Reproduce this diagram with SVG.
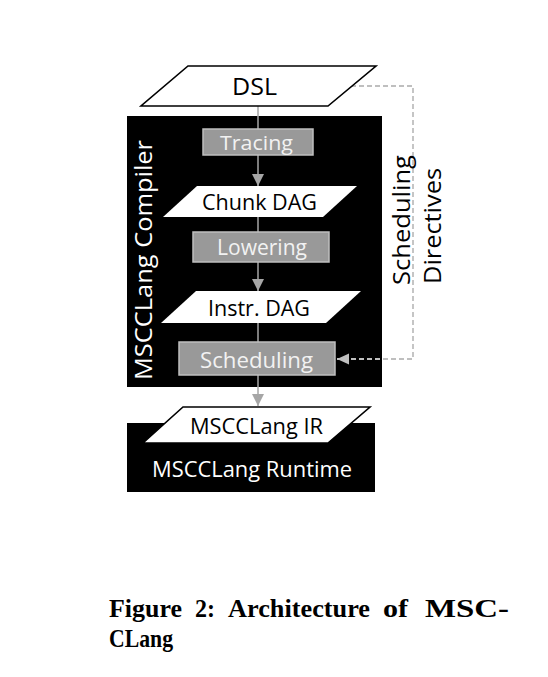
<svg xmlns="http://www.w3.org/2000/svg" width="548" height="677" viewBox="0 0 548 677">
<style>
.lbl{font-family:"Open Sans","Noto Sans","Liberation Sans",sans-serif;}
.blk{fill:#000;}
.step{fill:#999;stroke:#bfbfbf;stroke-width:1.5;}
.stxt{fill:#f2f2f2;}
.wtxt{fill:#fff;}
.dtxt{fill:#000;}
.conn{stroke:#a6a6a6;stroke-width:1.5;fill:none;}
.dash{stroke:#bfbfbf;stroke-width:1.8;fill:none;stroke-dasharray:5,3;}
.cap{font-family:"Liberation Serif",serif;font-weight:bold;font-size:25px;fill:#000;}
</style>
<defs>
<marker id="ah" markerUnits="userSpaceOnUse" markerWidth="14" markerHeight="14" viewBox="0 0 14 14" refX="12" refY="7" orient="auto">
<path d="M0,1 L12,7 L0,13 Z" fill="#a6a6a6"/>
</marker>
<marker id="ahd" markerUnits="userSpaceOnUse" markerWidth="14" markerHeight="14" viewBox="0 0 14 14" refX="12" refY="7" orient="auto">
<path d="M0,1.5 L12,7 L0,12.5 Z" fill="#bfbfbf"/>
</marker>
</defs>

<g id="compiler">
<rect class="blk" x="127" y="116" width="255" height="271"/>
<text class="lbl wtxt" font-size="24.5" transform="translate(152,380) rotate(-90)" textLength="240" lengthAdjust="spacingAndGlyphs">MSCCLang Compiler</text>
</g>

<g id="runtime">
<rect class="blk" x="127" y="423" width="248" height="69"/>
<text class="lbl wtxt" font-size="22" x="152" y="477" textLength="200" lengthAdjust="spacingAndGlyphs">MSCCLang Runtime</text>
</g>

<g id="connectors">
<line class="conn" x1="258" y1="106" x2="258" y2="129"/>
<line class="conn" x1="258" y1="155" x2="258" y2="186" marker-end="url(#ah)"/>
<line class="conn" x1="258" y1="217" x2="258" y2="232"/>
<line class="conn" x1="258" y1="262" x2="258" y2="291" marker-end="url(#ah)"/>
<line class="conn" x1="258" y1="323" x2="258" y2="342"/>
<line class="conn" x1="258" y1="375" x2="258" y2="406" marker-end="url(#ah)"/>
<path class="dash" d="M351,86 H413 V359 H337" marker-end="url(#ahd)"/>
</g>

<g id="dsl">
<polygon points="188,66 376,66 328,106 141,106" fill="#fff" stroke="#000" stroke-width="1.6"/>
<text class="lbl dtxt" font-size="24.5" x="232" y="94.5" textLength="45" lengthAdjust="spacingAndGlyphs">DSL</text>
</g>

<g id="tracing">
<rect class="step" x="203" y="129" width="110" height="26"/>
<text class="lbl stxt" font-size="19.5" x="220" y="150" textLength="73" lengthAdjust="spacingAndGlyphs">Tracing</text>
</g>

<g id="chunkdag">
<polygon points="197,186 357,186 323,217 163,217" fill="#fff"/>
<text class="lbl dtxt" font-size="21.5" x="202" y="209.5" textLength="115" lengthAdjust="spacingAndGlyphs">Chunk DAG</text>
</g>

<g id="lowering">
<rect class="step" x="193" y="232" width="136" height="30"/>
<text class="lbl stxt" font-size="21.5" x="217" y="254.5" textLength="90" lengthAdjust="spacingAndGlyphs">Lowering</text>
</g>

<g id="instrdag">
<polygon points="196,291 361,291 326,323 161,323" fill="#fff"/>
<text class="lbl dtxt" font-size="21.5" x="208" y="315.5" textLength="102" lengthAdjust="spacingAndGlyphs">Instr. DAG</text>
</g>

<g id="scheduling">
<rect class="step" x="179" y="342" width="156" height="33"/>
<text class="lbl stxt" font-size="21.5" x="200" y="368" textLength="113" lengthAdjust="spacingAndGlyphs">Scheduling</text>
</g>

<g id="ir">
<polygon points="183,407 370,407 328,443 143,443" fill="#fff" stroke="#000" stroke-width="1.6"/>
<text class="lbl dtxt" font-size="22" x="190" y="434" textLength="133" lengthAdjust="spacingAndGlyphs">MSCCLang IR</text>
</g>

<g id="directives">
<text class="lbl dtxt" font-size="24.5" transform="translate(410,285) rotate(-90)" textLength="130" lengthAdjust="spacingAndGlyphs">Scheduling</text>
<text class="lbl dtxt" font-size="24.5" transform="translate(441,284) rotate(-90)" textLength="116" lengthAdjust="spacingAndGlyphs">Directives</text>
</g>

<g id="caption">
<text class="cap" x="109" y="617" textLength="73" lengthAdjust="spacingAndGlyphs">Figure</text>
<text class="cap" x="195" y="617" textLength="20" lengthAdjust="spacingAndGlyphs">2:</text>
<text class="cap" x="228" y="617" textLength="142" lengthAdjust="spacingAndGlyphs">Architecture</text>
<text class="cap" x="383" y="617" textLength="25" lengthAdjust="spacingAndGlyphs">of</text>
<text class="cap" x="425" y="617" textLength="84" lengthAdjust="spacingAndGlyphs">MSC-</text>
<text class="cap" x="109" y="647" textLength="64" lengthAdjust="spacingAndGlyphs">CLang</text>
</g>
</svg>
